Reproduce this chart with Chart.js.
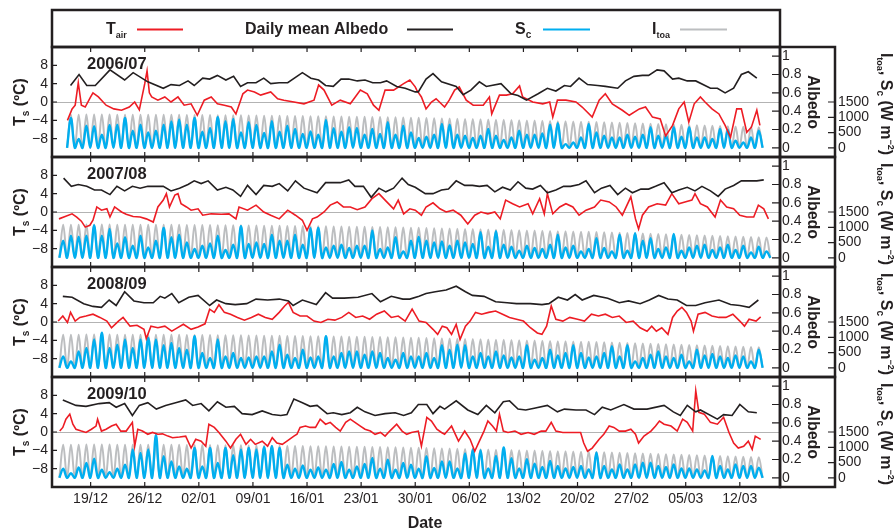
<!DOCTYPE html>
<html>
<head>
<meta charset="utf-8">
<script src="https://cdn.jsdelivr.net/npm/chart.js@4.4.1/dist/chart.umd.min.js"></script>
<style>
  html, body { margin: 0; padding: 0; background: #fff; }
  #wrap { position: relative; width: 895px; height: 531px; }
  #wrap canvas { position: absolute; left: 0; top: 0; }
</style>
</head>
<body>
<div id="wrap">
  <canvas id="c0" width="895" height="531"></canvas>
  <canvas id="c1" width="895" height="531"></canvas>
  <canvas id="c2" width="895" height="531"></canvas>
  <canvas id="c3" width="895" height="531"></canvas>
</div>
<script>
// --- données ---
// x = jours depuis le 19/12 (axe des dates)
const seasons = ['2006/07', '2007/08', '2008/09', '2009/10'];
const dateLabels = ['19/12', '26/12', '02/01', '09/01', '16/01', '23/01', '30/01', '06/02', '13/02', '20/02', '27/02', '05/03', '12/03'];
const xTicks = dateLabels.map((_, i) => i * 7);
const tsTicks = [-8, -4, 0, 4, 8];
const albTicks = [0, 0.2, 0.4, 0.6, 0.8, 1];
const wTicks = [0, 500, 1000, 1500];
const firstNoon = -3.55; // jour du premier midi (k = 0)

// Tair (°C) : [jour, valeur]
const tair0607 = [[-3.0,-4.0],[-2.4,-1.5],[-2.0,-0.7],[-1.6,4.2],[-1.2,-0.7],[-0.7,-1.1],[0,1.1],[0.3,2.0],[1.0,1.1],[2.0,-0.7],[3.0,-1.5],[4.0,-1.8],[5.0,-1.1],[5.7,0],[6.3,-1.7],[7.0,4.0],[7.3,6.8],[7.6,2.0],[7.9,1.1],[8.7,0.4],[9.6,1.1],[10.4,0],[11.3,1.1],[12.1,-0.7],[13.0,-0.4],[13.8,-2.9],[14.7,0.4],[15.6,1.1],[16.4,-0.4],[17.3,-0.7],[18.2,-1.1],[18.8,-2.6],[19.7,1.8],[20.3,2.6],[21.2,2.2],[22.0,1.5],[23.3,2.2],[24.2,0.7],[25.0,0.4],[26.3,0],[27.6,-0.4],[28.9,0.4],[29.5,3.7],[30.2,2.6],[31.2,-0.7],[32.3,0.4],[33.6,-0.4],[34.9,2.6],[35.8,1.8],[36.6,-0.7],[37.3,-1.8],[38.1,2.6],[39.2,2.6],[40.5,4.0],[41.3,4.8],[42.0,3.3],[42.2,2.6],[42.8,1.1],[43.4,-1.5],[44.1,0],[44.7,0.7],[45.8,-1.1],[46.4,0.4],[47.1,2.6],[47.7,3.3],[48.6,0.4],[49.5,-0.7],[50.8,-0.7],[51.6,1.1],[51.9,-2.6],[52.9,1.5],[53.8,1.5],[54.6,1.8],[55.5,3.5],[55.9,1.1],[57.2,0],[58.5,-0.4],[59.4,0],[59.8,-3.3],[60.4,0.4],[61.5,0.4],[62.8,0],[63.6,-1.1],[64.9,-3.3],[65.8,0.4],[66.6,1.8],[67.5,-0.4],[68.8,-1.8],[69.7,-2.9],[71.0,-1.5],[71.8,-1.1],[72.7,-3.3],[73.7,-3.7],[74.4,-7.4],[75.3,-5.1],[76.1,-1.5],[76.8,0],[77.4,-4.4],[78.1,-0.4],[78.9,1.1],[79.5,0],[80.4,-1.5],[81.3,-2.6],[82.1,-5.1],[82.8,-7.7],[83.6,-1.5],[84.2,-1.5],[84.9,-6.6],[85.5,-5.5],[86.2,-1.8],[86.6,-5.1]];
const tair0708 = [[-4.1,-1.5],[-3.3,-1.0],[-2.4,-0.4],[-1.8,-1.1],[-1.2,-2.0],[-0.7,-3.3],[-0.1,-2.9],[0.3,-1.8],[0.8,1.1],[1.4,0.4],[2.1,0.7],[2.5,-1.1],[3.1,1.1],[4.0,0],[4.6,-0.5],[5.5,-1.0],[6.4,-1.1],[7.2,-1.5],[8.1,-2.2],[8.7,1.1],[9.4,2.6],[9.8,4.0],[10.2,1.1],[10.9,3.7],[11.3,4.0],[11.7,1.8],[12.4,1.1],[13.0,0.4],[13.9,0.7],[14.5,-0.7],[15.6,-0.4],[16.9,-0.5],[17.9,-0.4],[18.8,-1.5],[19.2,1.1],[20.3,0.4],[21.4,1.5],[22.4,0],[23.3,-0.7],[24.4,-1.5],[25.5,0.4],[26.5,-0.7],[27.4,-1.8],[28.0,-4.0],[28.7,-1.5],[29.3,-1.1],[30.2,0],[31.0,1.5],[31.9,2.2],[32.7,1.1],[33.6,1.1],[34.5,0.5],[35.5,1.1],[36.4,2.9],[37.3,4.0],[38.1,2.6],[39.2,0.7],[39.8,2.6],[40.5,-0.4],[41.3,0.7],[42.0,0.4],[42.8,-0.7],[43.4,1.1],[44.3,2.0],[45.2,0.7],[46.0,0],[46.9,0.4],[47.9,-0.7],[48.8,-2.6],[49.7,-0.7],[50.5,0],[51.4,-0.4],[52.3,0],[53.0,-1.5],[53.7,2.6],[54.6,1.8],[55.5,1.1],[56.6,1.8],[57.2,-0.4],[58.1,2.9],[58.7,-0.4],[59.1,4.0],[59.8,-0.4],[60.7,1.1],[61.5,1.8],[62.4,1.1],[63.2,-0.7],[64.1,0.4],[65.2,1.1],[66.0,2.6],[67.1,2.2],[68.0,1.1],[68.8,-0.7],[69.9,3.3],[70.5,-1.5],[70.9,-3.7],[71.4,-0.7],[72.2,1.1],[73.3,1.8],[74.4,1.5],[75.2,4.0],[76.1,1.8],[76.9,2.2],[77.8,2.6],[78.2,4.0],[78.9,1.8],[79.8,1.1],[80.8,-1.1],[81.5,2.6],[82.3,1.1],[83.2,0.7],[84.0,-0.7],[84.9,-1.1],[85.8,-1.1],[86.4,1.5],[87.1,0.7],[87.7,-1.5]];
const tair0809 = [[-4.2,0.2],[-3.6,1.3],[-3.0,-0.1],[-2.6,2.1],[-2.0,0.2],[-1.4,1.0],[-0.6,1.3],[0.3,1.7],[1.2,1.0],[2.1,0.2],[2.7,-1.25],[3.6,0.2],[4.2,1.0],[5.1,-0.9],[6.0,-0.7],[6.9,-1.6],[7.2,-3.6],[7.8,-0.9],[8.7,-1.25],[9.6,-0.9],[10.5,-2.0],[11.1,-1.4],[12.0,-0.5],[13.0,-1.6],[13.9,-1.1],[14.8,-0.4],[15.4,2.8],[16.0,2.1],[16.6,3.75],[17.3,2.1],[18.1,1.7],[19.0,1.0],[19.9,0.4],[20.8,1.0],[21.7,1.7],[22.6,1.0],[23.5,0.6],[24.4,2.1],[25.1,3.5],[25.6,4.3],[26.2,2.1],[27.1,1.3],[28.0,1.3],[28.9,0.2],[29.8,-0.1],[30.7,0.6],[31.6,0.4],[32.5,1.0],[33.4,2.1],[34.3,1.0],[35.2,1.3],[36.1,0.6],[37.0,1.7],[38.0,2.4],[38.9,1.0],[39.8,1.3],[40.7,0.2],[41.6,2.8],[42.5,0.2],[43.4,-0.1],[44.3,-1.6],[44.9,-2.7],[45.5,-0.9],[46.1,-1.25],[46.7,-2.7],[47.3,-0.5],[47.8,-3.8],[48.5,-0.9],[49.1,0.2],[49.8,2.1],[50.6,1.7],[51.5,2.1],[52.4,2.4],[53.3,1.7],[54.2,1.0],[55.1,0.6],[56.0,0.2],[56.9,-1.25],[57.8,-2.4],[58.4,-2.7],[59.0,-0.9],[59.6,3.5],[60.2,0.6],[61.1,0.2],[62.0,1.0],[63.0,0.6],[63.9,0.2],[64.8,1.7],[65.7,1.3],[66.6,1.7],[67.5,1.0],[68.4,1.3],[69.3,-0.1],[70.2,0.2],[71.1,-1.25],[72.0,-2.0],[72.6,-0.9],[73.2,-2.0],[73.9,-1.25],[74.7,-2.7],[75.3,1.0],[75.9,2.4],[76.5,3.2],[77.1,2.1],[77.7,0.2],[78.0,-2.0],[78.6,1.7],[79.5,2.1],[80.4,1.3],[81.3,1.0],[82.2,1.0],[83.1,1.7],[84.0,0.2],[84.6,-0.9],[85.2,0.6],[86.1,0.2],[86.7,1.1]];
const tair0910 = [[-4.0,0.2],[-3.6,1.0],[-3.2,2.8],[-2.7,3.9],[-2.3,1.7],[-1.9,0.6],[-1.2,0.2],[-0.6,-0.1],[0.1,0.6],[0.7,1.3],[0.9,2.8],[1.4,0.2],[2.0,0.6],[2.7,1.3],[3.3,1.7],[3.9,0.2],[4.6,0.2],[5.4,2.1],[5.7,-3.1],[6.1,0.6],[6.7,0.2],[7.4,-0.5],[8.0,-0.1],[8.7,-0.5],[9.3,-0.4],[10.0,-0.9],[10.6,-1.25],[11.5,-1.1],[12.3,-0.9],[13.0,-3.5],[13.6,-1.6],[14.3,-2.0],[14.9,-3.1],[15.3,1.7],[16.0,1.0],[16.6,-0.1],[17.5,-2.0],[18.1,-3.5],[18.8,-1.6],[19.4,-0.5],[20.1,-2.7],[20.7,-1.6],[21.3,-2.7],[22.2,-2.0],[22.9,-3.1],[23.5,-1.25],[24.1,-2.4],[24.8,-2.7],[25.4,-2.0],[26.3,-0.9],[26.7,-0.5],[27.1,1.0],[27.8,1.3],[28.4,1.0],[29.1,1.0],[29.7,2.8],[30.4,1.7],[31.0,2.1],[31.7,1.0],[32.3,0.2],[33.0,2.1],[33.6,2.8],[34.2,2.1],[34.9,1.3],[35.5,0.6],[36.2,0.2],[36.8,-0.5],[37.5,-0.1],[38.1,-0.9],[38.7,0.2],[39.6,1.7],[40.3,0.2],[40.9,-0.5],[41.5,-0.1],[42.4,0.2],[42.8,-3.1],[43.5,3.2],[44.1,2.4],[44.8,0.6],[45.4,-0.1],[45.8,-0.5],[46.7,1.3],[47.3,-0.9],[47.6,-2.0],[48.4,0.2],[49.1,-1.6],[49.7,-4.2],[50.3,-2.0],[50.9,0.2],[51.4,2.4],[52.0,1.3],[52.5,0.2],[52.9,3.9],[53.4,0.2],[54.0,-0.1],[54.9,0.2],[55.7,-0.5],[56.6,-0.1],[57.4,-0.5],[58.3,0.2],[58.9,0.2],[59.6,2.1],[60.2,0.2],[61.1,-0.1],[62.1,-0.1],[63.4,-0.1],[63.8,-2.4],[64.3,-4.2],[64.9,-3.5],[65.8,-1.6],[66.4,-0.5],[67.1,1.3],[67.7,1.0],[68.4,0.2],[69.2,0.2],[69.9,0.6],[70.5,-0.5],[70.9,-2.4],[71.6,-0.9],[72.5,0.2],[73.1,1.3],[73.6,2.4],[74.2,1.7],[75.1,1.3],[75.9,0.2],[76.6,2.8],[77.2,2.1],[77.9,0.2],[78.3,9.0],[78.7,4.3],[79.4,3.9],[80.2,2.1],[81.1,1.7],[81.9,3.2],[82.6,-0.1],[83.2,-2.4],[83.8,-3.5],[84.5,-3.1],[85.1,-2.0],[85.6,-3.8],[86.0,-0.9],[86.7,-1.6]];

// albédo moyen journalier : [jour, valeur]
const alb0607 = [[-2.6,0.68],[-1.5,0.80],[-0.5,0.68],[0.6,0.68],[2.5,0.85],[4.4,0.74],[5.5,0.82],[7.4,0.72],[9.4,0.65],[10.4,0.69],[11.5,0.68],[12.6,0.73],[13.4,0.68],[14.5,0.76],[15.4,0.75],[16.4,0.79],[17.5,0.74],[18.5,0.78],[19.4,0.67],[20.3,0.71],[21.4,0.71],[22.4,0.76],[23.3,0.70],[24.4,0.71],[25.5,0.71],[27.4,0.82],[28.5,0.76],[29.5,0.74],[30.4,0.68],[31.4,0.67],[32.4,0.75],[33.4,0.75],[34.5,0.73],[35.5,0.74],[36.5,0.71],[37.5,0.71],[38.3,0.73],[39.6,0.67],[40.7,0.65],[42.0,0.61],[42.4,0.61],[43.4,0.75],[44.3,0.81],[45.4,0.72],[47.3,0.67],[48.2,0.58],[49.2,0.63],[50.3,0.72],[51.2,0.67],[53.1,0.70],[54.4,0.59],[55.3,0.57],[56.4,0.52],[57.9,0.59],[59.1,0.65],[60.2,0.62],[61.3,0.68],[62.1,0.67],[63.2,0.76],[64.3,0.69],[65.6,0.68],[66.6,0.67],[68.2,0.65],[69.2,0.73],[70.3,0.78],[71.4,0.79],[72.2,0.79],[73.3,0.85],[74.2,0.84],[75.3,0.75],[76.1,0.76],[77.2,0.73],[78.3,0.73],[80.2,0.65],[81.1,0.65],[82.1,0.60],[83.2,0.65],[84.2,0.80],[85.1,0.83],[86.2,0.76]];
const alb0708 = [[-3.5,0.87],[-2.5,0.78],[-1.6,0.80],[-0.5,0.78],[0.5,0.74],[1.4,0.74],[2.5,0.69],[3.4,0.78],[4.4,0.73],[5.4,0.78],[6.4,0.76],[7.4,0.78],[8.4,0.78],[9.4,0.78],[10.4,0.73],[11.5,0.76],[12.6,0.80],[13.4,0.84],[14.3,0.81],[15.2,0.84],[16.4,0.74],[17.5,0.77],[18.4,0.74],[19.4,0.67],[20.3,0.79],[21.4,0.69],[22.4,0.79],[23.5,0.78],[24.4,0.81],[25.5,0.73],[26.5,0.84],[27.6,0.76],[29.3,0.71],[30.4,0.82],[31.4,0.82],[32.3,0.82],[33.4,0.85],[34.2,0.78],[35.3,0.78],[36.3,0.66],[37.3,0.76],[38.2,0.72],[39.2,0.76],[40.3,0.87],[41.1,0.80],[42.0,0.77],[43.3,0.70],[44.3,0.70],[45.4,0.74],[46.3,0.75],[47.3,0.84],[48.4,0.79],[49.4,0.79],[50.3,0.78],[51.3,0.79],[52.3,0.72],[53.3,0.77],[54.3,0.74],[55.3,0.83],[56.3,0.76],[57.2,0.75],[58.2,0.79],[59.1,0.71],[60.2,0.74],[61.2,0.78],[62.1,0.78],[63.2,0.80],[64.1,0.84],[65.2,0.71],[66.1,0.76],[67.2,0.79],[68.2,0.69],[69.2,0.76],[70.1,0.71],[71.2,0.75],[72.2,0.75],[73.1,0.78],[74.2,0.82],[75.2,0.71],[76.1,0.74],[77.2,0.77],[78.2,0.73],[79.1,0.78],[80.2,0.73],[81.2,0.67],[82.1,0.75],[83.2,0.79],[84.2,0.84],[85.1,0.84],[86.2,0.84],[87.1,0.85]];
const alb0809 = [[-3.6,0.78],[-2.4,0.77],[-0.9,0.70],[0.3,0.67],[1.4,0.66],[2.4,0.74],[3.3,0.68],[4.4,0.83],[5.6,0.73],[6.9,0.71],[8.1,0.71],[9.0,0.78],[9.6,0.76],[10.5,0.81],[11.4,0.71],[12.7,0.77],[13.9,0.79],[15.4,0.68],[16.3,0.74],[17.5,0.70],[18.7,0.69],[20.2,0.70],[21.4,0.75],[22.9,0.74],[24.4,0.75],[25.6,0.73],[26.2,0.68],[27.4,0.74],[29.2,0.69],[30.4,0.82],[31.3,0.76],[32.8,0.76],[34.6,0.77],[36.4,0.81],[37.5,0.72],[38.9,0.78],[40.4,0.75],[41.3,0.75],[42.5,0.78],[43.4,0.81],[44.6,0.83],[46.0,0.85],[47.3,0.89],[48.5,0.83],[49.4,0.79],[50.9,0.78],[52.4,0.72],[53.9,0.71],[55.1,0.70],[56.9,0.70],[58.4,0.69],[59.3,0.70],[60.5,0.77],[61.7,0.74],[62.7,0.80],[63.6,0.74],[65.1,0.79],[66.9,0.76],[68.4,0.71],[69.6,0.73],[71.1,0.70],[72.3,0.74],[73.5,0.79],[74.7,0.75],[75.9,0.74],[77.1,0.68],[78.3,0.68],[79.5,0.71],[81.3,0.74],[82.8,0.69],[84.0,0.68],[85.2,0.66],[86.4,0.74]];
const alb0910 = [[-3.6,0.85],[-1.9,0.79],[-0.6,0.78],[1.1,0.81],[2.4,0.82],[3.3,0.77],[4.4,0.81],[5.4,0.68],[6.3,0.79],[7.4,0.82],[8.5,0.75],[9.7,0.79],[11.0,0.82],[12.3,0.85],[13.2,0.79],[14.3,0.81],[15.3,0.73],[16.4,0.83],[17.5,0.77],[18.6,0.78],[19.6,0.70],[20.9,0.69],[22.2,0.73],[23.5,0.69],[24.6,0.68],[25.4,0.69],[26.3,0.86],[27.4,0.82],[28.4,0.78],[29.3,0.79],[30.6,0.70],[31.4,0.71],[32.5,0.69],[33.6,0.71],[34.5,0.77],[35.5,0.72],[36.8,0.68],[38.1,0.70],[39.4,0.71],[40.5,0.68],[41.5,0.71],[42.4,0.80],[43.5,0.80],[44.3,0.70],[45.2,0.78],[45.8,0.75],[47.3,0.84],[48.8,0.74],[50.1,0.69],[51.2,0.79],[52.3,0.71],[53.4,0.83],[54.2,0.84],[55.3,0.75],[56.3,0.74],[57.4,0.76],[59.1,0.79],[60.4,0.72],[61.3,0.75],[62.8,0.74],[64.1,0.74],[65.2,0.69],[66.2,0.77],[67.3,0.74],[69.0,0.80],[70.3,0.75],[72.0,0.75],[74.2,0.79],[75.4,0.72],[76.3,0.68],[77.2,0.79],[78.3,0.72],[78.9,0.74],[81.1,0.64],[81.9,0.69],[83.0,0.68],[84.0,0.80],[85.1,0.72],[86.2,0.71]];

// pics journaliers (W m-2) ; le pic k tombe au jour firstNoon + k
const itoaPeak = [1084,1085,1086,1087,1087,1087,1087,1086,1086,1085,1085,1084,1083,1082,1081,1080,1078,1076,1074,1072,1070,1068,1066,1063,1060,1057,1054,1051,1048,1045,1042,1039,1036,1033,1030,1027,1024,1021,1018,1015,1012,1010,1004,998,992,987,982,976,970,964,958,952,946,940,934,928,922,916,910,904,898,892,886,880,874,868,862,856,850,844,838,830,822,814,806,798,790,782,774,766,758,750,741,732,723,714,705,696,687,680,673,666];
const sc0607 = [982,287,728,706,430,750,761,982,563,761,507,563,761,860,927,761,982,529,651,1004,871,949,507,838,750,485,871,529,728,618,452,540,430,915,640,529,673,651,430,618,452,838,430,728,507,320,364,430,783,761,430,397,320,397,618,397,254,342,563,430,430,474,761,805,121,176,342,783,507,397,342,342,430,364,430,673,397,397,673,364,673,342,342,287,618,585,232,176,342,563];
const sc0708 = [563,728,695,728,1059,728,949,474,673,397,728,342,563,982,673,761,507,287,397,474,728,254,430,1037,452,507,452,761,563,563,761,430,971,982,342,397,430,320,397,397,893,287,342,673,210,563,695,563,507,540,397,563,507,452,838,364,871,430,364,232,397,320,287,430,761,342,397,210,287,640,320,210,761,232,805,563,640,287,342,783,232,342,397,430,254,342,430,254,397,176,364,210];
const sc0809 = [375,210,540,651,927,1150,651,761,927,651,927,982,927,739,816,651,596,1037,485,320,927,375,485,320,342,375,375,540,761,430,320,596,342,375,1037,375,485,540,540,430,540,485,320,265,485,375,375,485,320,739,596,761,739,375,485,375,540,408,342,375,739,265,320,596,408,485,739,485,342,375,485,706,375,739,210,320,430,540,375,320,430,210,596,408,452,375,320,408,375,210,596];
const sc0910 = [298,154,342,485,629,265,188,298,430,927,816,927,1400,706,540,375,298,982,375,982,485,982,739,927,982,927,1004,1037,982,430,298,408,265,342,265,452,518,265,375,452,651,298,596,265,485,430,298,706,320,540,540,309,794,938,904,309,717,993,640,309,607,463,353,552,386,309,353,386,276,827,386,276,441,276,441,496,496,386,353,441,309,309,276,243,717,386,276,441,386,386,331];
const scStart = [1, 0, 0, 0]; // premier k de chaque saison

const tairSets = [tair0607, tair0708, tair0809, tair0910];
const albSets = [alb0607, alb0708, alb0809, alb0910];
const scSets = [sc0607, sc0708, sc0809, sc0910];

const ink = '#231f20';
const red = '#ed1c24';
const blue = '#00aeef';
const grey = '#bcbec0';
const FAM = '"Liberation Sans", Arial, Helvetica, sans-serif';
const f = (w, s) => `${w} ${s}px ${FAM}`;

Chart.defaults.font.family = FAM;
Chart.defaults.color = ink;

// cycle diurne : 0 la nuit, pic à midi
function diurnal(peaks, k0) {
  const pts = [];
  peaks.forEach((p, i) => {
    const d = firstNoon + k0 + i;
    if (i === 0) pts.push({ x: d - 0.5, y: 0 });
    pts.push({ x: d, y: p }, { x: d + 0.5, y: 0 });
  });
  return pts;
}

// texte avec indices / exposants
function richText(ctx, parts, x, y, angle, base) {
  ctx.save();
  ctx.translate(x, y);
  ctx.rotate(angle || 0);
  const widths = parts.map(p => { ctx.font = p[1]; return ctx.measureText(p[0]).width; });
  let cx = angle ? -widths.reduce((s, w) => s + w, 0) / 2 : 0;
  ctx.textAlign = 'left';
  ctx.textBaseline = 'alphabetic';
  ctx.fillStyle = ink;
  parts.forEach((p, j) => {
    ctx.font = p[1];
    ctx.fillText(p[0], cx, (base || 0) + (p[2] || 0));
    cx += widths[j];
  });
  ctx.restore();
}

const panelDeco = {
  id: 'panelDeco',
  afterDraw(chart, args, opts) {
    const { ctx, chartArea: a, scales } = chart;
    const boxR = scales.yAlb.right;
    const cy = (a.top + a.bottom) / 2;
    ctx.save();
    ctx.strokeStyle = ink;
    ctx.lineWidth = 1.2;
    ctx.beginPath();
    xTicks.forEach(v => {
      const px = scales.x.getPixelForValue(v);
      ctx.moveTo(px, a.top); ctx.lineTo(px, a.top + 5);
      ctx.moveTo(px, a.bottom); ctx.lineTo(px, a.bottom - 5);
    });
    tsTicks.forEach(v => {
      const py = scales.y.getPixelForValue(v);
      ctx.moveTo(a.left, py); ctx.lineTo(a.left + 5, py);
    });
    albTicks.forEach(v => {
      const py = scales.yAlb.getPixelForValue(v);
      ctx.moveTo(a.right - 8, py); ctx.lineTo(a.right, py);
    });
    wTicks.forEach(v => {
      const py = scales.yW.getPixelForValue(v);
      ctx.moveTo(boxR - 7, py); ctx.lineTo(boxR, py);
    });
    ctx.stroke();

    ctx.lineWidth = 2.5;
    ctx.strokeRect(a.left, a.top, a.right - a.left, a.bottom - a.top);
    ctx.strokeRect(a.right, a.top, boxR - a.right, a.bottom - a.top);

    ctx.fillStyle = ink;
    ctx.font = f('bold', 16.5);
    ctx.textBaseline = 'alphabetic';
    ctx.fillText(seasons[opts.index], 87, a.top + 21.5);

    richText(ctx, [['T', f('bold', 16)], ['s', f('bold', 10), 4], [' (\u00baC)', f('bold', 16)]], 19, cy, -Math.PI / 2, 6);
    richText(ctx, [['Albedo', f('bold', 16)]], 808, cy, Math.PI / 2, 0);
    richText(ctx, [
      ['I', f('bold', 16)], ['toa', f('bold', 9), 4], [', S', f('bold', 16)], ['c', f('bold', 10), 4],
      [' (W m', f('bold', 16)], ['\u22122', f('bold', 9), -7], [')', f('bold', 16)]
    ], 881, cy + 2, Math.PI / 2, 0);

    if (opts.index === 0) {
      // légende
      ctx.lineWidth = 2.5;
      ctx.strokeRect(a.left, 10, a.right - a.left, a.top - 10);
      const items = [
        { parts: [['T', f('bold', 16)], ['air', f('bold', 9), 4]], x: 106, line: [137, 183], color: red },
        { parts: [['Daily mean Albedo', f('bold', 16)]], x: 245, line: [407, 453], color: ink },
        { parts: [['S', f('bold', 16)], ['c', f('bold', 10), 4]], x: 515, line: [543, 590], color: blue },
        { parts: [['I', f('bold', 16)], ['toa', f('bold', 9), 4]], x: 652, line: [680, 727], color: grey }
      ];
      items.forEach(it => {
        richText(ctx, it.parts, it.x, 34, 0, 0);
        ctx.strokeStyle = it.color;
        ctx.lineWidth = 2;
        ctx.beginPath();
        ctx.moveTo(it.line[0], 29.5); ctx.lineTo(it.line[1], 29.5);
        ctx.stroke();
      });
    }
    if (opts.index === 3) {
      ctx.fillStyle = ink;
      ctx.font = f('bold', 16);
      ctx.textAlign = 'center';
      ctx.fillText('Date', 425, 528);
    }
    ctx.restore();
  }
};

seasons.forEach((s, i) => {
  const k0 = scStart[i];
  const sc = scSets[i];
  const last = i === 3;
  new Chart(document.getElementById('c' + i), {
    type: 'line',
    data: {
      datasets: [
        { label: 'Daily mean Albedo', data: albSets[i].map(p => ({ x: p[0], y: p[1] })), yAxisID: 'yAlb',
          borderColor: ink, borderWidth: 1.6, pointRadius: 0, tension: 0 },
        { label: 'Tair', data: tairSets[i].map(p => ({ x: p[0], y: p[1] })), yAxisID: 'y',
          borderColor: red, borderWidth: 1.6, pointRadius: 0, tension: 0 },
        { label: 'Sc', data: diurnal(sc, k0), yAxisID: 'yW',
          borderColor: blue, borderWidth: 2.4, pointRadius: 0, tension: 0.35 },
        { label: 'Itoa', data: diurnal(itoaPeak.slice(k0, k0 + sc.length), k0), yAxisID: 'yW',
          borderColor: grey, borderWidth: 2, pointRadius: 0, tension: 0.35 }
      ]
    },
    options: {
      responsive: false,
      maintainAspectRatio: false,
      animation: false,
      events: [],
      layout: { padding: { left: 0, right: 0, top: 47 + 110 * i, bottom: last ? 0 : 531 - (157 + 110 * i) } },
      plugins: { legend: { display: false }, tooltip: { enabled: false }, panelDeco: { index: i } },
      scales: {
        x: {
          type: 'linear', min: -5, max: 89.2, display: last,
          afterBuildTicks: sc => { sc.ticks = xTicks.map(v => ({ value: v })); },
          afterFit: sc => { if (last) sc.height = 44; },
          grid: { display: false, drawTicks: false }, border: { display: false },
          ticks: { autoSkip: false, maxRotation: 0, padding: 4, font: { size: 14 }, color: ink,
                   callback: (v, idx) => dateLabels[idx] }
        },
        y: {
          position: 'left', min: -12, max: 12,
          afterBuildTicks: sc => { sc.ticks = tsTicks.map(v => ({ value: v })); },
          afterFit: sc => { sc.width = 52; },
          grid: { drawTicks: false, lineWidth: 1, color: c => (c.tick && c.tick.value === 0 ? '#b3b3b3' : 'rgba(0,0,0,0)') },
          border: { display: false },
          ticks: { autoSkip: false, padding: 4, font: { size: 14 }, color: ink,
                   callback: v => String(v).replace('-', '\u2212') }
        },
        yAlb: {
          position: 'right', weight: 1, min: -0.1, max: 1.1,
          afterBuildTicks: sc => { sc.ticks = albTicks.map(v => ({ value: v })); },
          afterFit: sc => { sc.width = 55; },
          grid: { display: false, drawTicks: false }, border: { display: false },
          ticks: { autoSkip: false, padding: 2, font: { size: 14 }, color: ink,
                   callback: v => String(+v.toFixed(1)) }
        },
        yW: {
          position: 'right', weight: 2, min: -300, max: 3300,
          afterBuildTicks: sc => { sc.ticks = wTicks.map(v => ({ value: v })); },
          afterFit: sc => { sc.width = 60; },
          grid: { display: false, drawTicks: false }, border: { display: false },
          ticks: { autoSkip: false, padding: 3, font: { size: 14 }, color: ink,
                   callback: v => String(v) }
        }
      }
    },
    plugins: [panelDeco]
  });
});
</script>
</body>
</html>
